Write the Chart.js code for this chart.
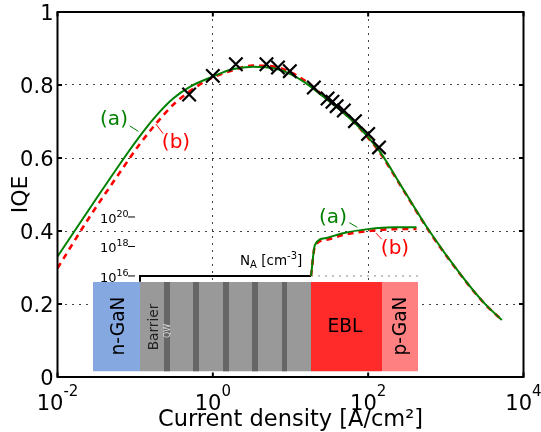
<!DOCTYPE html>
<html><head><meta charset="utf-8">
<script src="https://cdn.jsdelivr.net/npm/chart.js@4"></script>
<style>html,body{margin:0;padding:0;background:#fff}canvas{display:block}</style>
</head><body><canvas id="c" width="541" height="432"></canvas>
<script>
// Curves: current density (A/cm2) vs IQE
const curveJA = [0.01,0.0288,0.085,0.115,0.17,0.308,0.506,1,1.78,3.3,6.3,10,15.8,25,40,68,100,141,282,624,1514,3020,5250];
const iqeA = [0.33,0.476,0.622,0.66,0.706,0.763,0.795,0.823,0.843,0.85,0.845,0.83,0.805,0.772,0.738,0.695,0.657,0.618,0.515,0.398,0.284,0.206,0.156];
const curveJB = [0.01,0.026,0.0667,0.11,0.179,0.324,0.863,1.78,3.3,6.3,10,15.8,25,40,68,100,141,282,624,1514,3020,5250];
const iqeB = [0.298,0.439,0.567,0.633,0.69,0.75,0.814,0.84,0.853,0.85,0.835,0.81,0.775,0.74,0.695,0.655,0.615,0.513,0.396,0.283,0.205,0.156];
const measJ = [0.495,1,1.98,4.9,6.9,9.8,20,30,34.7,39.3,48.6,67.6,100,138];
const measIQE = [0.774,0.825,0.857,0.857,0.848,0.838,0.793,0.763,0.754,0.742,0.73,0.701,0.666,0.629];
const xTickValues = [0.01,1,100,10000];
const xTickExponents = ['-2','0','2','4'];
const yTickValues = [0,0.2,0.4,0.6,0.8,1];
const yTickLabels = ['0','0.2','0.4','0.6','0.8','1'];
// Device structure: layer edges along position axis
const layerNames = ['n-GaN','Barrier','EBL','p-GaN'];
const layerStart = [35.5,82.5,253.5,324.5];
const layerEnd = [82.5,253.5,324.5,360.5];
const layerColors = ['#85a8e0','#999999','#ff2b2b','#ff8080'];
const qwStart = [106.5,135.5,165.5,194.5,224.5];
const qwEnd = [112.5,141.5,171.5,200.5,229.5];
const stackTop = 0.26, stackBottom = 0.016;
// Doping profile NA (cm-3) along position axis
const dopingBaseX = [82.5,82.5,253.5];
const dopingBaseY = [4e15,1e16,1e16];
const dopingX = [253.5,257.5,269,285.5,310.5,335.5,359];
const dopingA = [1e16,1.3e18,3.8e18,8e18,1.5e19,2e19,2e19];
const dopingB = [1e16,1.1e18,2.9e18,6e18,1.1e19,1.5e19,1.55e19];
const dopingTicks = [1e16,1e18,1e20];

const pts=(xs,ys)=>xs.map((x,i)=>({x,y:ys[i]}));
const layerSets = layerNames.map((n,i)=>({label:n,xAxisID:'x2',yAxisID:'y',
  data:[{x:layerStart[i],y:stackTop},{x:layerEnd[i],y:stackTop}],
  backgroundColor:layerColors[i],borderWidth:0,pointRadius:0,fill:{value:stackBottom},order:6}));
const qwSets = qwStart.map((s,i)=>({label:'QW'+i,xAxisID:'x2',yAxisID:'y',
  data:[{x:s,y:stackTop},{x:qwEnd[i],y:stackTop}],
  backgroundColor:'#666666',borderWidth:0,pointRadius:0,fill:{value:stackBottom},order:5}));
const thin=(col,a,b)=>({xAxisID:'x',yAxisID:'y',data:[a,b],borderColor:col,borderWidth:1,pointRadius:0,order:4});
const thin2=(col,a,b)=>({xAxisID:'x2',yAxisID:'y2',data:[a,b],borderColor:col,borderWidth:1,pointRadius:0,order:4});

const deco={id:'deco',
 afterDatasetsDraw(ch){
  const c=ch.ctx,a=ch.chartArea,f='DejaVu Sans';
  const txt=(s,x,y,size,col,rot)=>{c.save();c.translate(rot?x+1:x,rot?y:y+1.5);if(rot)c.rotate(-Math.PI/2);
    c.font=size+'px "'+f+'"';c.fillStyle=col;c.textAlign='center';c.textBaseline='middle';c.fillText(s,0,0);c.restore();};
  c.save();
  // frame and inward ticks
  c.strokeStyle='#000';c.lineWidth=2;c.strokeRect(a.left,a.top,a.right-a.left,a.bottom-a.top);
  c.beginPath();
  xTickValues.forEach(v=>{const p=ch.scales.x.getPixelForValue(v);c.moveTo(p,a.top);c.lineTo(p,a.top+4.5);c.moveTo(p,a.bottom);c.lineTo(p,a.bottom-4.5);});
  yTickValues.forEach(v=>{const p=ch.scales.y.getPixelForValue(v);c.moveTo(a.left,p);c.lineTo(a.left+4.5,p);c.moveTo(a.right,p);c.lineTo(a.right-4.5,p);});
  c.stroke();
  // x tick labels with superscript exponent
  c.fillStyle='#000';c.textBaseline='alphabetic';c.textAlign='left';
  xTickValues.forEach((v,i)=>{const p=ch.scales.x.getPixelForValue(v);const e=xTickExponents[i];
    c.font='21px "'+f+'"';const w1=c.measureText('10').width;
    c.font='15px "'+f+'"';const w2=c.measureText(e).width;
    const x0=p-(w1+w2)/2;
    c.font='21px "'+f+'"';c.fillText('10',x0,410);
    c.font='15px "'+f+'"';c.fillText(e,x0+w1,396);});
  // annotations
  txt('(a)',114,118,20,'#008000');txt('(b)',176,141,20,'#ff0000');
  txt('(a)',333,216,20,'#008000');txt('(b)',395,247,20,'#ff0000');
  // layer names
  txt('n-GaN',118,326,18.6,'#000',true);txt('p-GaN',400,326,18.6,'#000',true);
  txt('EBL',345,326,18.6,'#000');txt('Barrier',153,327,13.7,'#222',true);txt('QW',167,331,8,'#ddd',true);
  // doping labels
  c.fillStyle='#000';c.textBaseline='alphabetic';c.textAlign='left';
  dopingTicks.forEach(v=>{const p=ch.scales.y2.getPixelForValue(v);const e=Math.round(Math.log10(v));
    c.font='13px "'+f+'"';c.fillText('10',100,p+6);
    c.font='9.5px "'+f+'"';c.fillText(String(e),116.5,p+0);
    c.fillRect(128,p-0.5,7,1);});
  let x=240;const y=265;
  c.font='13.5px "'+f+'"';c.fillText('N',x,y);x+=c.measureText('N').width;
  c.font='10px "'+f+'"';c.fillText('A',x,y+3);x+=c.measureText('A').width;
  c.font='13.5px "'+f+'"';c.fillText(' [cm',x,y);x+=c.measureText(' [cm').width;
  c.font='10px "'+f+'"';c.fillText('-3',x,y-6);x+=c.measureText('-3').width;
  c.font='13.5px "'+f+'"';c.fillText(']',x,y);
  c.restore();
 }};

const gridOpts={color:'#444',lineWidth:1,drawTicks:false,tickLength:0};
new Chart(document.getElementById('c'),{
 type:'line',
 data:{datasets:[
  {label:'measured',xAxisID:'x',yAxisID:'y',data:pts(measJ,measIQE),showLine:false,pointStyle:'crossRot',pointRadius:9.5,pointBorderWidth:2.2,pointBorderColor:'#000',pointBackgroundColor:'#000',order:0},
  {label:'(a)',xAxisID:'x',yAxisID:'y',data:pts(curveJA,iqeA),borderColor:'#008000',borderWidth:2,pointRadius:0,cubicInterpolationMode:'monotone',order:1},
  {label:'(b)',xAxisID:'x',yAxisID:'y',data:pts(curveJB,iqeB),borderColor:'#ff0000',borderWidth:2.6,borderDash:[6,5],pointRadius:0,cubicInterpolationMode:'monotone',order:2},
  {label:'NA a',xAxisID:'x2',yAxisID:'y2',data:pts(dopingX,dopingA),borderColor:'#008000',borderWidth:2,pointRadius:0,cubicInterpolationMode:'monotone',order:1},
  {label:'NA b',xAxisID:'x2',yAxisID:'y2',data:pts(dopingX,dopingB),borderColor:'#ff0000',borderWidth:2.6,borderDash:[6,5],pointRadius:0,cubicInterpolationMode:'monotone',order:2},
  {label:'NA',xAxisID:'x2',yAxisID:'y2',data:pts(dopingBaseX,dopingBaseY),borderColor:'#000',borderWidth:2,pointRadius:0,order:3},
  {label:'NA grid',xAxisID:'x2',yAxisID:'y2',data:pts([253.5,360.5],[1e16,1e16]),borderColor:'#888',borderWidth:1,borderDash:[2,5],pointRadius:0,order:4},
  thin('#008000',{x:0.085,y:0.688},{x:0.11,y:0.673}),
  thin('#ff0000',{x:0.185,y:0.693},{x:0.229,y:0.667}),
  thin2('#008000',{x:291.8,y:4.1e19},{x:299.8,y:2e19}),
  thin2('#ff0000',{x:318.5,y:8e18},{x:324.2,y:3.1e18}),
  ...qwSets,...layerSets
 ]},
 options:{responsive:false,animation:false,
  layout:{padding:{top:12,right:17.5,left:0,bottom:0}},
  plugins:{legend:{display:false},tooltip:{enabled:false}},
  scales:{
   x:{type:'logarithmic',position:'bottom',min:0.01,max:10000,
    afterBuildTicks:s=>{s.ticks=xTickValues.map(v=>({value:v}));},
    afterFit:s=>{s.height=55;s.paddingLeft=0;s.paddingRight=0;},
    grid:gridOpts,
    border:{display:false,dash:[2,5]},
    ticks:{display:false},
    title:{display:true,text:'Current density [A/cm²]',color:'#000',font:{family:'DejaVu Sans',size:22.5},padding:{top:0,bottom:-2}}},
   y:{type:'linear',position:'left',min:0,max:1,
    afterBuildTicks:s=>{s.ticks=yTickValues.map(v=>({value:v}));},
    afterFit:s=>{s.width=57.5;s.paddingTop=0;s.paddingBottom=0;},
    grid:gridOpts,
    border:{display:false,dash:[2,5]},
    ticks:{color:'#000',font:{family:'DejaVu Sans',size:21},padding:4,autoSkip:false,labelOffset:2.5,
     callback:(v)=>{const i=yTickValues.indexOf(v);return i<0?'':yTickLabels[i];}},
    title:{display:true,text:'IQE',color:'#000',font:{family:'DejaVu Sans',size:22},padding:{top:8,bottom:0}}},
   x2:{type:'linear',display:false,min:0,max:466},
   y2:{type:'logarithmic',display:false,min:1.4e9,max:8e33}
  }},
 plugins:[deco]
});
</script></body></html>
